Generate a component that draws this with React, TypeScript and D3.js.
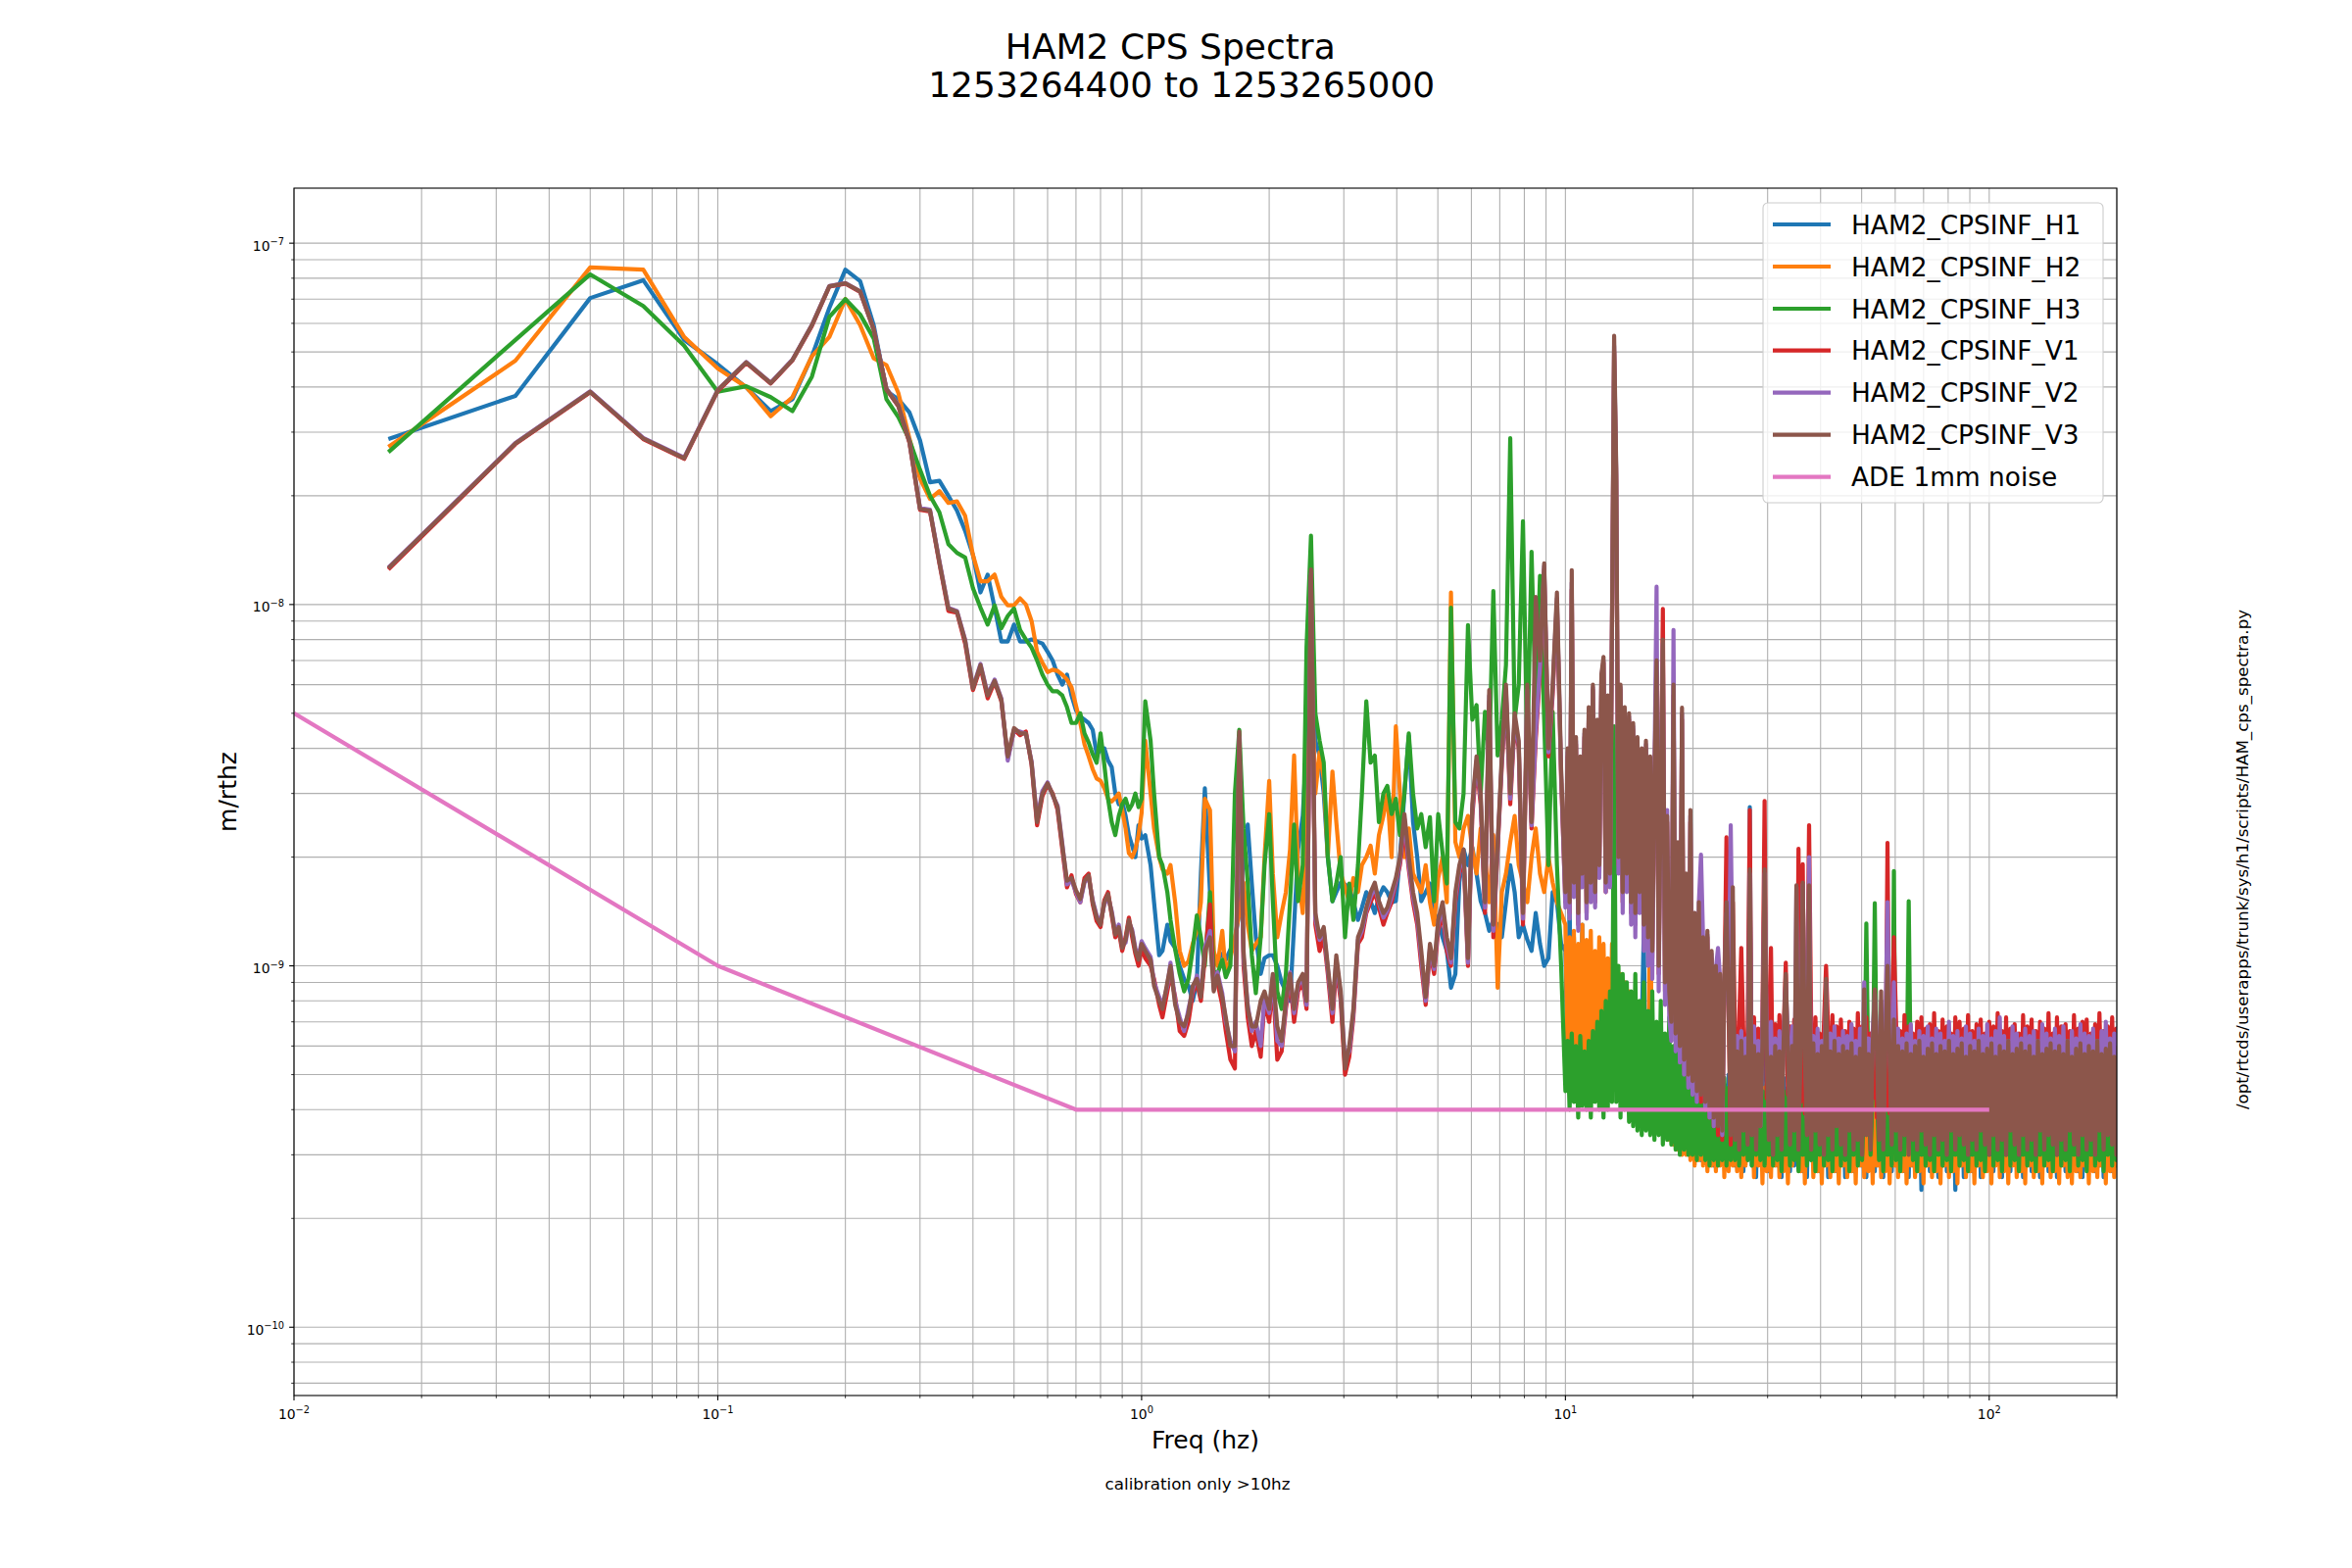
import React from "react";
import * as d3 from "d3";

// amplitude values below are in units of 1e-11 m/rthz
const UNIT = 1e-11;

// frequency grid (Hz) shared by the six CPS channels
const freqLow = [
  0.0167, 0.0333, 0.05, 0.0667, 0.0833, 0.1, 0.1167, 0.1333, 0.15, 0.1667,
  0.1833, 0.2, 0.2167, 0.2333, 0.25, 0.2667, 0.2833, 0.3, 0.3167, 0.3333,
  0.35, 0.3667, 0.3833, 0.4, 0.4167, 0.4333, 0.45, 0.4667, 0.4833, 0.5,
  0.5167, 0.5333, 0.55, 0.5667, 0.5833, 0.6, 0.6167, 0.6333, 0.65, 0.6667,
  0.6833, 0.7, 0.7167, 0.7333, 0.75, 0.7667, 0.7833, 0.8, 0.8167, 0.8333,
  0.85, 0.8667, 0.8833, 0.9, 0.9167, 0.9333, 0.95, 0.9667, 0.9833, 1.0,
];
const freqMid = [
  1.02, 1.05, 1.07, 1.1, 1.12, 1.15, 1.17, 1.2, 1.23, 1.26,
  1.29, 1.32, 1.35, 1.38, 1.41, 1.45, 1.48, 1.51, 1.55, 1.58,
  1.62, 1.66, 1.7, 1.74, 1.78, 1.82, 1.86, 1.91, 1.95, 2.0,
  2.04, 2.09, 2.14, 2.19, 2.24, 2.29, 2.34, 2.4, 2.45, 2.51,
  2.57, 2.63, 2.69, 2.75, 2.82, 2.88, 2.95, 3.02, 3.09, 3.16,
  3.24, 3.31, 3.39, 3.47, 3.55, 3.63, 3.72, 3.8, 3.89, 3.98,
  4.07, 4.17, 4.27, 4.37, 4.47, 4.57, 4.68, 4.79, 4.9, 5.01,
  5.13, 5.25, 5.37, 5.5, 5.62, 5.75, 5.89, 6.03, 6.17, 6.31,
  6.46, 6.61, 6.76, 6.92, 7.08, 7.24, 7.41, 7.59, 7.76, 7.94,
  8.13, 8.32, 8.51, 8.71, 8.91, 9.12, 9.33, 9.55, 9.77,
];
const freqHigh = [
  10.0, 10.12, 10.23, 10.35, 10.47, 10.59, 10.72, 10.84, 10.96, 11.09,
  11.22, 11.35, 11.48, 11.61, 11.75, 11.89, 12.02, 12.16, 12.3, 12.45,
  12.59, 12.74, 12.88, 13.03, 13.18, 13.34, 13.49, 13.65, 13.8, 13.96,
  14.13, 14.29, 14.45, 14.62, 14.79, 14.96, 15.14, 15.31, 15.49, 15.67,
  15.85, 16.03, 16.22, 16.41, 16.6, 16.79, 16.98, 17.18, 17.38, 17.58,
  17.78, 17.99, 18.2, 18.41, 18.62, 18.84, 19.05, 19.27, 19.5, 19.72,
  19.95, 20.18, 20.42, 20.65, 20.89, 21.13, 21.38, 21.63, 21.88, 22.13,
  22.39, 22.65, 22.91, 23.17, 23.44, 23.71, 23.99, 24.27, 24.55, 24.83,
];
const freqTop = [
  25.12, 25.41, 25.7, 26.0, 26.3, 26.61, 26.92, 27.23, 27.54, 27.86,
  28.18, 28.51, 28.84, 29.17, 29.51, 29.85, 30.2, 30.55, 30.9, 31.26,
  31.62, 31.99, 32.36, 32.73, 33.11, 33.5, 33.88, 34.28, 34.67, 35.08,
  35.48, 35.89, 36.31, 36.73, 37.15, 37.58, 38.02, 38.46, 38.9, 39.36,
  39.81, 40.27, 40.74, 41.21, 41.69, 42.17, 42.66, 43.15, 43.65, 44.16,
  44.67, 45.19, 45.71, 46.24, 46.77, 47.32, 47.86, 48.42, 48.98, 49.55,
  50.12, 50.7, 51.29, 51.88, 52.48, 53.09, 53.7, 54.33, 54.95, 55.59,
  56.23, 56.89, 57.54, 58.21, 58.88, 59.57, 60.26, 60.95, 61.66, 62.37,
  63.1, 63.83, 64.57, 65.31, 66.07, 66.83, 67.61, 68.39, 69.18, 69.98,
  70.79, 71.61, 72.44, 73.28, 74.13, 74.99, 75.86, 76.74, 77.62, 78.52,
  79.43, 80.35, 81.28, 82.22, 83.18, 84.14, 85.11, 86.1, 87.1, 88.1,
  89.13, 90.16, 91.2, 92.26, 93.33, 94.41, 95.5, 96.61, 97.72, 98.86,
  100.0, 101.2, 102.3, 103.5, 104.7, 105.9, 107.2, 108.4, 109.6, 110.9,
  112.2, 113.5, 114.8, 116.1, 117.5, 118.9, 120.2, 121.6, 123.0, 124.5,
  125.9, 127.4, 128.8, 130.3, 131.8, 133.4, 134.9, 136.5, 138.0, 139.6,
  141.3, 142.9, 144.5, 146.2, 147.9, 149.6, 151.4, 153.1, 154.9, 156.7,
  158.5, 160.3, 162.2, 164.1, 166.0, 167.9, 169.8, 171.8, 173.8, 175.8,
  177.8, 179.9, 182.0, 184.1, 186.2, 188.4, 190.5, 192.8, 195.0, 197.2,
  199.5, 201.8,
];

// HAM2_CPSINF_H1
const h1Low = [
  2870, 3780, 7050, 7900, 5400, 4620, 3990, 3430, 3700, 4860,
  6620, 8450, 7850, 5930, 3900, 3700, 3400, 2850, 2180, 2200,
  2000, 1820, 1600, 1370, 1080, 1210, 980, 790, 790, 880,
  790, 790, 800, 790, 780, 740, 700, 640, 600, 640,
  560, 510, 490, 480, 470, 450, 385, 395, 400, 370,
  355, 300, 280, 285, 260, 230, 215, 200, 245, 225,
];
const h1Mid = [
  230, 190, 150, 107, 110, 130, 117, 112, 100, 92,
  88, 80, 90, 180, 310, 160, 107, 104, 108, 104,
  111, 118, 140, 200, 246, 169, 120, 95, 105, 107,
  107, 100, 90, 85, 80, 130, 210, 260, 410, 900,
  420, 382, 300, 200, 151, 160, 170, 168, 165, 150,
  134, 145, 160, 151, 140, 155, 165, 160, 150, 151,
  200, 300, 433, 250, 200, 151, 160, 169, 140, 134,
  120, 110, 87, 95, 170, 210, 190, 213, 180, 151,
  140, 125, 134, 130, 120, 150, 190, 160, 120, 130,
  118, 110, 140, 115, 100, 105, 160, 150, 115,
];
const h1High = [
  110, 55, 150, 50, 120, 48, 100, 52, 130, 60,
  95, 50, 110, 55, 100, 45, 105, 58, 90, 50,
  100, 52, 85, 48, 95, 46, 80, 50, 90, 44,
  78, 45, 75, 42, 70, 44, 68, 125, 40, 65,
  42, 62, 38, 60, 40, 58, 37, 56, 36, 55,
  35, 54, 34, 52, 33, 50, 32, 52, 31, 50,
  30, 48, 31, 50, 29, 47, 30, 49, 29, 46,
  28, 48, 30, 46, 29, 47, 28, 50, 29, 46,
];
const h1Top = [
  28, 48, 29, 50, 27, 46, 29, 275, 28, 47,
  26, 49, 30, 46, 100, 48, 27, 50, 29, 45,
  28, 47, 26, 49, 29, 46, 27, 50, 28, 100,
  29, 46, 27, 48, 26, 50, 29, 47, 28, 45,
  27, 49, 29, 46, 26, 48, 28, 50, 27, 46,
  29, 47, 26, 49, 28, 45, 27, 50, 29, 46,
  28, 48, 26, 47, 29, 49, 27, 46, 28, 50,
  26, 47, 29, 60, 27, 48, 28, 46, 29, 49,
  27, 50, 26, 47, 28, 46, 29, 48, 24, 49,
  28, 46, 27, 50, 29, 47, 26, 49, 28, 45,
  27, 48, 29, 46, 24, 50, 28, 47, 26, 49,
  29, 46, 27, 48, 28, 50, 26, 47, 29, 45,
  28, 49, 27, 46, 29, 48, 26, 50, 28, 47,
  27, 45, 29, 49, 28, 46, 26, 48, 29, 50,
  27, 47, 28, 46, 26, 49, 29, 45, 27, 48,
  28, 50, 26, 47, 29, 46, 27, 49, 28, 45,
  29, 48, 27, 46, 26, 50, 28, 47, 29, 49,
  27, 46, 28, 48, 26, 45, 29, 50, 27, 47,
  28, 49,
];

// HAM2_CPSINF_H2
const h2Low = [
  2730, 4730, 8570, 8450, 5500, 4500, 4000, 3320, 3750, 4860,
  5500, 7000, 5930, 4800, 4600, 3850, 2880, 2230, 1960, 2060,
  1910, 1930, 1760, 1370, 1160, 1160, 1210, 1050, 995, 995,
  1040, 1000, 900, 740, 690, 650, 660, 655, 640, 620,
  590, 525, 470, 410, 380, 350, 330, 325, 310, 290,
  285, 292, 300, 270, 240, 205, 200, 210, 230, 265,
];
const h2Mid = [
  420, 300, 240, 200, 185, 180, 190, 150, 110, 100,
  103, 115, 125, 150, 290, 270, 110, 100, 125, 95,
  105, 120, 140, 170, 130, 110, 115, 120, 200, 325,
  180, 120, 140, 160, 210, 382, 180, 140, 230, 700,
  300, 390, 330, 200, 345, 250, 180, 165, 150, 175,
  160, 190, 200, 215, 180, 230, 260, 300, 200, 460,
  300, 200, 240, 180, 170, 160, 190, 150, 130, 175,
  200, 150, 1080, 220, 200, 240, 260, 210, 180, 240,
  200, 150, 230, 87, 160, 180, 220, 260, 190, 170,
  150, 200, 240, 180, 160, 200, 170, 150, 140,
];
const h2High = [
  130, 55, 120, 60, 125, 52, 115, 58, 130, 55,
  118, 60, 125, 54, 110, 58, 120, 52, 115, 56,
  105, 50, 115, 52, 100, 48, 95, 50, 90, 46,
  85, 45, 80, 42, 78, 40, 75, 38, 72, 40,
  190, 38, 68, 36, 65, 35, 62, 34, 60, 33,
  58, 32, 56, 31, 54, 30, 52, 30, 50, 29,
  49, 28, 48, 29, 47, 28, 46, 27, 48, 28,
  46, 27, 45, 28, 47, 26, 44, 27, 46, 28,
];
const h2Top = [
  45, 27, 44, 26, 46, 28, 43, 90, 45, 26,
  47, 28, 44, 25, 46, 27, 43, 26, 45, 28,
  44, 26, 47, 27, 43, 25, 46, 28, 44, 80,
  45, 27, 43, 25, 46, 70, 44, 26, 47, 27,
  43, 25, 45, 28, 44, 26, 46, 27, 43, 25,
  46, 28, 44, 26, 45, 27, 43, 25, 46, 28,
  44, 26, 47, 27, 43, 25, 46, 28, 44, 26,
  45, 27, 43, 25, 46, 28, 44, 26, 47, 27,
  43, 25, 45, 28, 44, 26, 46, 27, 43, 25,
  46, 28, 44, 26, 45, 27, 43, 25, 46, 28,
  44, 26, 47, 27, 43, 25, 46, 28, 44, 26,
  45, 27, 43, 25, 46, 28, 44, 26, 47, 27,
  43, 25, 45, 28, 44, 26, 46, 27, 43, 25,
  46, 28, 44, 26, 45, 27, 43, 25, 46, 28,
  44, 26, 47, 27, 43, 25, 46, 28, 44, 26,
  45, 27, 43, 25, 46, 28, 44, 26, 47, 25,
  43, 27, 45, 26, 44, 28, 46, 25, 43, 27,
  45, 26, 44, 28, 46, 25, 43, 27, 45, 26,
  44, 28,
];

// HAM2_CPSINF_H3
const h3Low = [
  2640, 5400, 8200, 6700, 5200, 3880, 4020, 3750, 3430, 4270,
  6250, 7000, 6350, 5450, 3700, 3300, 2850, 2360, 2000, 1800,
  1470, 1390, 1350, 1110, 980, 880, 995, 860, 930, 975,
  850, 800, 760, 700, 640, 600, 575, 575, 560, 520,
  470, 470, 500, 440, 415, 385, 365, 440, 360, 290,
  250, 230, 260, 280, 290, 270, 280, 300, 275, 290,
];
const h3Mid = [
  540, 420, 300, 200, 190, 160, 134, 111, 95, 85,
  92, 111, 138, 120, 100, 160, 97, 95, 104, 93,
  100, 300, 450, 240, 170, 107, 84, 120, 190, 263,
  151, 85, 76, 95, 151, 246, 151, 190, 764, 1550,
  500, 420, 365, 200, 151, 169, 200, 120, 169, 134,
  190, 300, 540, 365, 382, 250, 300, 315, 263, 290,
  230, 300, 440, 300, 240, 263, 213, 258, 151, 263,
  205, 169, 980, 250, 240, 300, 877, 480, 527, 300,
  505, 382, 1090, 382, 480, 680, 2886, 480, 600, 1700,
  382, 1400, 500, 1200, 480, 190, 505, 190, 100,
];
const h3High = [
  45, 62, 40, 65, 42, 60, 38, 64, 41, 58,
  40, 62, 38, 66, 42, 70, 40, 75, 38, 80,
  40, 85, 42, 460, 42, 100, 38, 95, 40, 90,
  37, 85, 36, 95, 35, 80, 34, 90, 35, 75,
  34, 85, 33, 70, 34, 80, 32, 65, 33, 72,
  32, 60, 31, 65, 30, 58, 31, 55, 30, 60,
  30, 52, 29, 55, 30, 50, 29, 52, 28, 48,
  29, 50, 28, 47, 29, 49, 28, 46, 29, 48,
];
const h3Top = [
  29, 50, 28, 48, 30, 47, 29, 49, 28, 46,
  30, 48, 29, 45, 28, 47, 30, 44, 28, 46,
  29, 43, 27, 45, 30, 44, 28, 46, 29, 43,
  27, 45, 30, 44, 28, 46, 29, 43, 27, 45,
  30, 44, 28, 46, 29, 43, 27, 45, 30, 44,
  28, 46, 29, 43, 27, 45, 30, 44, 28, 46,
  29, 43, 131, 45, 30, 44, 149, 46, 29, 43,
  27, 45, 30, 44, 28, 183, 29, 43, 27, 45,
  30, 44, 151, 46, 29, 43, 27, 45, 30, 44,
  28, 46, 29, 43, 27, 45, 30, 44, 28, 46,
  29, 43, 27, 45, 30, 44, 28, 46, 29, 43,
  27, 45, 30, 44, 28, 46, 29, 43, 27, 45,
  30, 44, 28, 46, 29, 43, 27, 45, 30, 44,
  28, 46, 29, 43, 27, 45, 30, 44, 28, 46,
  29, 43, 27, 45, 30, 44, 28, 46, 29, 43,
  27, 45, 30, 44, 28, 46, 29, 43, 27, 45,
  30, 44, 28, 46, 29, 43, 27, 45, 30, 44,
  28, 46, 29, 43, 27, 45, 30, 44, 28, 46,
  29, 43,
];

// HAM2_CPSINF_V1
const v1Low = [
  1250, 2780, 3870, 2870, 2530, 3900, 4660, 4090, 4740, 5900,
  7580, 7730, 7330, 5760, 3940, 3540, 2800, 1830, 1810, 1300,
  960, 950, 780, 580, 670, 550, 610, 540, 375, 450,
  435, 445, 360, 245, 295, 318, 300, 270, 210, 165,
  178, 158, 150, 175, 180, 148, 133, 128, 152, 160,
  138, 120, 125, 110, 120, 136, 120, 108, 100, 112,
];
const v1Mid = [
  105, 100, 92, 78, 72, 85, 95, 82, 66, 64,
  70, 84, 90, 80, 105, 148, 88, 90, 78, 66,
  55, 52, 420, 100, 72, 60, 66, 56, 80, 70,
  90, 55, 58, 76, 92, 70, 85, 90, 76, 1200,
  130, 110, 120, 95, 70, 100, 80, 50, 56, 72,
  115, 120, 140, 150, 160, 145, 130, 140, 150, 170,
  190, 240, 185, 150, 130, 100, 78, 110, 95, 125,
  140, 110, 100, 150, 180, 200, 100, 260, 360, 280,
  140, 540, 120, 210, 360, 560, 280, 470, 400, 130,
  560, 240, 420, 650, 1250, 380, 560, 1000, 330,
];
const v1High = [
  150, 380, 140, 1100, 160, 410, 130, 360, 170, 430,
  140, 500, 160, 580, 150, 460, 180, 620, 690, 160,
  540, 170, 850, 5000, 2200, 190, 580, 150, 500, 170,
  480, 140, 450, 130, 410, 150, 380, 125, 400, 115,
  360, 105, 320, 650, 95, 290, 972, 85, 250, 80,
  66, 560, 62, 210, 58, 480, 52, 170, 48, 250,
  46, 135, 43, 140, 42, 115, 40, 120, 38, 105,
  36, 95, 34, 90, 33, 85, 227, 76, 32, 150,
];
const v1Top = [
  66, 40, 70, 112, 64, 42, 68, 270, 39, 72,
  41, 67, 38, 71, 286, 43, 65, 112, 40, 69,
  42, 73, 39, 66, 102, 44, 68, 40, 71, 38,
  211, 42, 191, 39, 70, 245, 67, 41, 72, 38,
  65, 43, 69, 100, 66, 40, 73, 42, 68, 39,
  71, 41, 66, 38, 70, 44, 67, 40, 74, 42,
  68, 39, 72, 41, 65, 43, 70, 38, 66, 42,
  69, 40, 219, 39, 67, 120, 71, 43, 66, 40,
  73, 38, 68, 42, 65, 41, 70, 39, 72, 43,
  67, 40, 69, 38, 74, 42, 66, 41, 71, 39,
  68, 43, 65, 40, 72, 38, 70, 42, 67, 41,
  73, 39, 66, 43, 69, 40, 71, 38, 65, 42,
  70, 41, 68, 39, 74, 43, 66, 40, 72, 38,
  67, 42, 69, 41, 65, 39, 73, 43, 68, 40,
  71, 38, 66, 42, 70, 41, 67, 39, 74, 43,
  65, 40, 72, 38, 68, 42, 69, 41, 66, 39,
  73, 43, 67, 40, 70, 38, 71, 42, 65, 41,
  69, 39, 74, 43, 66, 40, 68, 38, 72, 42,
  67, 41,
];

// HAM2_CPSINF_V2
const v2Low = [
  1265, 2800, 3890, 2890, 2550, 3930, 4690, 4110, 4760, 5940,
  7610, 7760, 7360, 5790, 3960, 3560, 2830, 1850, 1830, 1320,
  980, 960, 800, 590, 685, 565, 620, 550, 370, 450,
  445, 438, 368, 255, 305, 322, 296, 278, 218, 168,
  172, 160, 150, 170, 176, 152, 138, 132, 148, 155,
  142, 124, 130, 114, 116, 132, 126, 112, 106, 117,
];
const v2Mid = [
  112, 106, 90, 82, 78, 88, 102, 80, 72, 66,
  76, 86, 94, 84, 112, 125, 86, 96, 84, 70,
  62, 58, 430, 105, 78, 66, 70, 60, 82, 74,
  93, 62, 60, 78, 96, 74, 88, 93, 78, 1220,
  135, 118, 125, 98, 74, 104, 83, 55, 58, 74,
  118, 125, 142, 155, 165, 150, 136, 142, 155, 172,
  195, 255, 190, 155, 135, 105, 80, 112, 98, 130,
  145, 115, 102, 155, 185, 205, 102, 270, 370, 290,
  145, 560, 125, 215, 370, 580, 290, 480, 410, 135,
  580, 245, 440, 680, 1280, 390, 580, 1040, 340,
];
const v2High = [
  145, 390, 135, 1150, 155, 420, 125, 370, 165, 440,
  135, 510, 150, 590, 145, 470, 175, 630, 700, 160,
  550, 165, 870, 5200, 2300, 180, 590, 140, 510, 160,
  490, 130, 460, 120, 420, 140, 390, 110, 410, 100,
  370, 92, 340, 1120, 85, 310, 780, 78, 270, 72,
  62, 850, 58, 215, 54, 500, 50, 175, 46, 260,
  44, 140, 42, 150, 203, 118, 40, 122, 38, 108,
  36, 98, 112, 92, 34, 88, 140, 78, 245, 90,
];
const v2Top = [
  38, 64, 40, 66, 36, 63, 39, 180, 37, 68,
  41, 62, 36, 67, 180, 65, 38, 70, 40, 63,
  37, 66, 39, 64, 90, 62, 41, 68, 36, 165,
  40, 63, 168, 66, 38, 200, 36, 64, 41, 67,
  37, 62, 39, 90, 36, 65, 40, 68, 38, 63,
  41, 66, 37, 64, 39, 69, 36, 62, 40, 67,
  38, 90, 41, 63, 37, 66, 84, 64, 39, 80,
  36, 68, 150, 62, 38, 90, 40, 67, 37, 63,
  41, 65, 36, 69, 39, 62, 38, 66, 40, 64,
  37, 68, 41, 63, 36, 67, 39, 65, 38, 62,
  40, 70, 37, 64, 41, 66, 36, 63, 39, 68,
  38, 65, 40, 62, 37, 67, 41, 64, 36, 69,
  39, 63, 38, 66, 40, 72, 37, 64, 41, 62,
  36, 68, 39, 65, 38, 63, 40, 67, 37, 64,
  41, 66, 36, 62, 39, 69, 38, 65, 40, 63,
  37, 67, 41, 64, 36, 68, 39, 62, 38, 66,
  40, 63, 37, 69, 41, 65, 36, 64, 39, 67,
  38, 62, 40, 66, 37, 70, 41, 63, 36, 65,
  39, 68,
];

// HAM2_CPSINF_V3
const v3Low = [
  1260, 2790, 3880, 2880, 2540, 3920, 4680, 4100, 4750, 5930,
  7600, 7750, 7350, 5780, 3950, 3550, 2820, 1840, 1820, 1310,
  975, 955, 795, 585, 680, 560, 615, 545, 380, 455,
  440, 440, 365, 250, 300, 320, 298, 275, 215, 172,
  175, 162, 153, 172, 178, 150, 136, 130, 150, 158,
  140, 122, 128, 112, 118, 134, 124, 110, 104, 115,
];
const v3Mid = [
  110, 104, 88, 80, 76, 90, 100, 78, 70, 68,
  74, 88, 92, 82, 110, 120, 85, 94, 82, 72,
  60, 60, 445, 110, 76, 68, 68, 80, 85, 76,
  95, 68, 62, 80, 95, 76, 90, 95, 80, 1250,
  140, 120, 128, 100, 76, 107, 85, 52, 60, 76,
  120, 128, 145, 160, 170, 151, 140, 145, 160, 175,
  200, 263, 200, 160, 140, 110, 82, 115, 100, 134,
  150, 120, 105, 160, 190, 210, 105, 280, 380, 300,
  150, 580, 130, 220, 380, 600, 300, 500, 420, 140,
  600, 250, 1050, 700, 1300, 400, 600, 1080, 350,
];
const v3High = [
  160, 400, 150, 1245, 170, 430, 140, 380, 180, 450,
  150, 520, 170, 600, 160, 480, 190, 640, 716, 170,
  560, 180, 900, 5540, 2400, 200, 600, 160, 520, 180,
  500, 150, 470, 140, 430, 160, 400, 130, 420, 120,
  380, 110, 330, 700, 100, 300, 800, 90, 260, 85,
  70, 600, 65, 220, 60, 518, 55, 180, 50, 270,
  48, 140, 45, 150, 44, 120, 42, 125, 40, 110,
  38, 100, 36, 95, 35, 90, 150, 80, 34, 165,
];
const v3Top = [
  33, 58, 31, 62, 35, 56, 32, 185, 34, 60,
  31, 57, 36, 61, 185, 59, 33, 56, 30, 60,
  34, 58, 31, 62, 95, 57, 32, 60, 35, 167,
  31, 59, 170, 56, 34, 167, 31, 61, 35, 57,
  32, 60, 30, 92, 34, 58, 31, 62, 36, 57,
  32, 60, 30, 58, 35, 61, 31, 56, 33, 59,
  30, 86, 34, 57, 31, 60, 86, 58, 33, 85,
  31, 59, 100, 57, 32, 71, 35, 60, 31, 58,
  34, 61, 30, 57, 33, 60, 31, 62, 35, 56,
  32, 59, 30, 61, 34, 57, 31, 60, 33, 58,
  30, 62, 35, 57, 31, 59, 34, 61, 32, 56,
  30, 60, 33, 58, 31, 62, 35, 57, 32, 59,
  30, 61, 34, 56, 31, 60, 33, 58, 30, 62,
  35, 57, 32, 59, 30, 61, 34, 58, 31, 60,
  33, 56, 30, 62, 35, 57, 31, 59, 34, 61,
  32, 58, 30, 60, 33, 57, 31, 62, 35, 56,
  32, 59, 30, 61, 34, 57, 31, 60, 33, 58,
  30, 62, 35, 57, 31, 59, 34, 61, 32, 56,
  30, 60,
];

// ADE 1mm noise reference curve
const adeFreq = [0.01, 0.1, 0.7, 100];
const adeNoise = [5e-9, 1e-9, 4e-10, 4e-10];

const seriesNames = [
  "HAM2_CPSINF_H1", "HAM2_CPSINF_H2", "HAM2_CPSINF_H3",
  "HAM2_CPSINF_V1", "HAM2_CPSINF_V2", "HAM2_CPSINF_V3",
];
const seriesColors = ["#1f77b4", "#ff7f0e", "#2ca02c", "#d62728", "#9467bd", "#8c564b"];
const adeName = "ADE 1mm noise";
const adeColor = "#e377c2";

const FONT = "DejaVu Sans, Verdana, sans-serif";
const PLOT = { left: 300, right: 2160, top: 192, bottom: 1424 };
const LW = 4.2;

const Pow10 = ({ exp, x, y, anchor }: { exp: number; x: number; y: number; anchor: string }) => (
  <text x={x} y={y} textAnchor={anchor} fontFamily={FONT} fontSize={13.9} fill="#000">
    <tspan>10</tspan>
    <tspan dy={-5.4} fontSize={9.8}>{exp < 0 ? `\u2212${-exp}` : `${exp}`}</tspan>
  </text>
);

const App = () => {
  const x = d3.scaleLog().domain([0.01, 200]).range([PLOT.left, PLOT.right]);
  const y = d3.scaleLog().domain([6.47e-11, 1.42e-7]).range([PLOT.bottom, PLOT.top]);

  const freq = [...freqLow, ...freqMid, ...freqHigh, ...freqTop];
  const channelValues = [
    [...h1Low, ...h1Mid, ...h1High, ...h1Top],
    [...h2Low, ...h2Mid, ...h2High, ...h2Top],
    [...h3Low, ...h3Mid, ...h3High, ...h3Top],
    [...v1Low, ...v1Mid, ...v1High, ...v1Top],
    [...v2Low, ...v2Mid, ...v2High, ...v2Top],
    [...v3Low, ...v3Mid, ...v3High, ...v3Top],
  ];

  const line = d3.line<[number, number]>()
    .x((d) => x(d[0]))
    .y((d) => y(d[1]));

  const paths = channelValues.map((vals) => {
    const n = Math.min(vals.length, freq.length);
    const pts: [number, number][] = [];
    for (let i = 0; i < n; i++) pts.push([freq[i], vals[i] * UNIT]);
    return line(pts) || "";
  });
  const adePath = line(adeFreq.map((f, i) => [f, adeNoise[i]] as [number, number])) || "";

  const xMajor = [0.01, 0.1, 1, 10, 100];
  const xMinor = xMajor.flatMap((d) => d3.range(2, 10).map((k) => k * d)).filter((v) => v <= 200.0001);
  const yDecades = [1e-11, 1e-10, 1e-9, 1e-8, 1e-7];
  const yMajor = [1e-10, 1e-9, 1e-8, 1e-7];
  const yMinor = yDecades.flatMap((d) => d3.range(2, 10).map((k) => k * d))
    .filter((v) => v >= 6.47e-11 && v <= 1.42e-7);

  const gridColor = "#b0b0b0";
  const legendItems = [
    ...seriesNames.map((n, i) => ({ name: n, color: seriesColors[i] })),
    { name: adeName, color: adeColor },
  ];
  const legendY = [229, 272, 315, 357.7, 400.7, 443.7, 486.7];

  return (
    <div style={{ position: "absolute", left: 0, top: 0 }}>
      <svg width={2400} height={1600} style={{ display: "block", background: "#fff" }}>
        <rect x={0} y={0} width={2400} height={1600} fill="#fff" />
        <defs>
          <clipPath id="plotClip">
            <rect x={PLOT.left} y={PLOT.top} width={PLOT.right - PLOT.left} height={PLOT.bottom - PLOT.top} />
          </clipPath>
        </defs>

        {/* title */}
        <text x={1200} y={60} textAnchor="middle" fontFamily={FONT} fontSize={36} style={{ whiteSpace: "pre" }}>
          {"HAM2 CPS Spectra "}
        </text>
        <text x={1200} y={99} textAnchor="middle" fontFamily={FONT} fontSize={36} style={{ whiteSpace: "pre" }}>
          {" 1253264400 to 1253265000"}
        </text>

        {/* grid */}
        <g stroke={gridColor} strokeWidth={1.1}>
          {[...xMajor, ...xMinor].map((v, i) => (
            <line key={"gx" + i} x1={x(v)} x2={x(v)} y1={PLOT.top} y2={PLOT.bottom} />
          ))}
          {[...yMajor, ...yMinor].map((v, i) => (
            <line key={"gy" + i} x1={PLOT.left} x2={PLOT.right} y1={y(v)} y2={y(v)} />
          ))}
        </g>

        {/* data */}
        <g clipPath="url(#plotClip)" fill="none" strokeWidth={LW} strokeLinejoin="round">
          {paths.map((d, i) => (
            <path key={"s" + i} d={d} stroke={seriesColors[i]} />
          ))}
          <path d={adePath} stroke={adeColor} />
        </g>

        {/* spines */}
        <rect x={PLOT.left} y={PLOT.top} width={PLOT.right - PLOT.left} height={PLOT.bottom - PLOT.top}
          fill="none" stroke="#000" strokeWidth={1.1} />

        {/* ticks */}
        <g stroke="#000">
          {xMajor.map((v, i) => (
            <line key={"tx" + i} x1={x(v)} x2={x(v)} y1={PLOT.bottom} y2={PLOT.bottom + 4.9} strokeWidth={1.1} />
          ))}
          {xMinor.map((v, i) => (
            <line key={"mx" + i} x1={x(v)} x2={x(v)} y1={PLOT.bottom} y2={PLOT.bottom + 2.8} strokeWidth={0.8} />
          ))}
          {yMajor.map((v, i) => (
            <line key={"ty" + i} x1={PLOT.left - 4.9} x2={PLOT.left} y1={y(v)} y2={y(v)} strokeWidth={1.1} />
          ))}
          {yMinor.map((v, i) => (
            <line key={"my" + i} x1={PLOT.left - 2.8} x2={PLOT.left} y1={y(v)} y2={y(v)} strokeWidth={0.8} />
          ))}
        </g>
        {xMajor.map((v, i) => (
          <Pow10 key={"lx" + i} exp={Math.round(Math.log10(v))} x={x(v)} y={PLOT.bottom + 23.5} anchor="middle" />
        ))}
        {yMajor.map((v, i) => (
          <Pow10 key={"ly" + i} exp={Math.round(Math.log10(v))} x={PLOT.left - 10} y={y(v) + 7.5} anchor="end" />
        ))}

        {/* axis labels */}
        <text x={(PLOT.left + PLOT.right) / 2} y={1477.5} textAnchor="middle" fontFamily={FONT} fontSize={25}>
          Freq (hz)
        </text>
        <text transform={`translate(241,${(PLOT.top + PLOT.bottom) / 2}) rotate(-90)`} textAnchor="middle"
          fontFamily={FONT} fontSize={25}>
          m/rthz
        </text>

        {/* footnotes */}
        <text x={1222} y={1519.5} textAnchor="middle" fontFamily={FONT} fontSize={16.7}>
          calibration only &gt;10hz
        </text>
        <text transform="translate(2294,877) rotate(-90)" textAnchor="middle" fontFamily={FONT} fontSize={16.7}>
          /opt/rtcds/userapps/trunk/sys/h1/scripts/HAM_cps_spectra.py
        </text>

        {/* legend */}
        <rect x={1799} y={207} width={347} height={306} rx={5} ry={5}
          fill="#fff" fillOpacity={0.8} stroke="#cccccc" strokeWidth={1.1} />
        {legendItems.map((it, i) => (
          <g key={"lg" + i}>
            <line x1={1809} x2={1868} y1={legendY[i]} y2={legendY[i]} stroke={it.color} strokeWidth={LW} />
            <text x={1889} y={legendY[i] + 9.6} fontFamily={FONT} fontSize={26.4}>
              {it.name}
            </text>
          </g>
        ))}
      </svg>
    </div>
  );
};

export default App;
